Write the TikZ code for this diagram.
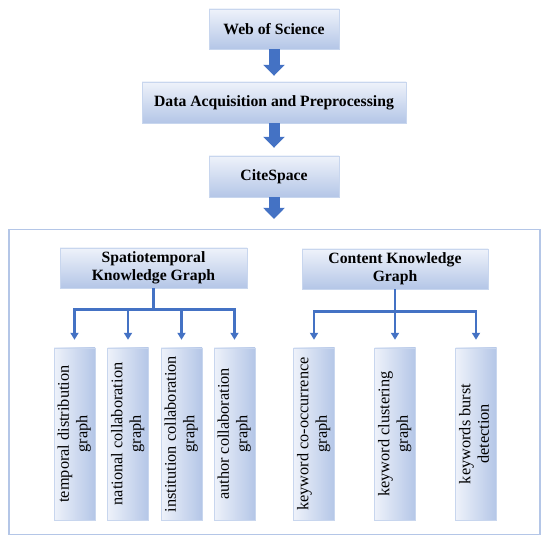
\documentclass[tikz,border=0pt]{standalone}
\usepackage{fontspec}
\setmainfont{Liberation Serif}
\usetikzlibrary{arrows.meta}

\definecolor{boxtop}{RGB}{238,242,250}
\definecolor{boxbot}{RGB}{180,198,231}
\definecolor{boxline}{RGB}{200,214,238}
\definecolor{arrblue}{RGB}{68,114,196}

\begin{document}
\begin{tikzpicture}[
  x=1pt, y=1pt,
  hbox/.style={draw=boxline, top color=boxtop, bottom color=boxbot, inner sep=0pt,
    align=center, font=\fontsize{15.7}{18}\selectfont\bfseries},
  leaf/.style={draw=boxline, left color=boxtop, right color=boxbot, inner sep=0pt,
    minimum width=41pt, minimum height=172pt, font=\fontsize{16.3}{18.5}\selectfont},
  blk/.style={arrblue, line width=11pt, -{Triangle[width=21pt,length=11pt]}},
  conn/.style={arrblue, line width=2.8pt, -{Triangle[width=8pt,length=7pt]}, shorten >=8pt},
]
\useasboundingbox (0,0) rectangle (550,548);

\node [hbox, minimum width=130pt, minimum height=40pt] (wos) at (274,519) {Web of Science};
\node [hbox, minimum width=264pt, minimum height=41pt] (data) at (274,445.5) {Data Acquisition and Preprocessing};
\node [hbox, minimum width=130pt, minimum height=41pt] (cite) at (274,371.5) {CiteSpace};
\node [draw=boxbot, line width=1.2pt, minimum width=531pt, minimum height=305pt] (frame) at (274.5,166) {};

\draw [blk, shorten >=6pt] (wos) -- (data);
\draw [blk, shorten >=8pt] (data) -- (cite);
\draw [blk, shorten >=10pt] (cite) -- (cite |- frame.north);

% left part
\node [hbox, minimum width=187pt, minimum height=40pt] (st) at (153.5,280) {Spatiotemporal\\Knowledge Graph};
\node [leaf] (tdg) at (74.5,114) {\rotatebox{90}{\begin{tabular}{@{}c@{}}temporal distribution\\graph\end{tabular}}};
\node [leaf] (ncg) at (128,114) {\rotatebox{90}{\begin{tabular}{@{}c@{}}national collaboration\\graph\end{tabular}}};
\node [leaf] (icg) at (181.5,114) {\rotatebox{90}{\begin{tabular}{@{}c@{}}institution collaboration\\graph\end{tabular}}};
\node [leaf] (acg) at (234.5,114) {\rotatebox{90}{\begin{tabular}{@{}c@{}}author collaboration\\graph\end{tabular}}};

\draw [conn] (st.south) -- ++(0,-21) -| (tdg.north);
\draw [conn] (st.south) -- ++(0,-21) -| (ncg.north);
\draw [conn] (st.south) -- ++(0,-21) -| (icg.north);
\draw [conn] (st.south) -- ++(0,-21) -| (acg.north);

% right part
\node [hbox, minimum width=186pt, minimum height=40pt] (ck) at (395,279) {Content Knowledge\\Graph};
\node [leaf] (kcg) at (314,114) {\rotatebox{90}{\begin{tabular}{@{}c@{}}keyword co-occurrence\\graph\end{tabular}}};
\node [leaf] (kcl) at (395,114) {\rotatebox{90}{\begin{tabular}{@{}c@{}}keyword clustering\\graph\end{tabular}}};
\node [leaf] (kbd) at (476,114) {\rotatebox{90}{\begin{tabular}{@{}c@{}}keywords burst\\detection\end{tabular}}};

\draw [conn] (ck.south) -- ++(0,-22) -| (kcg.north);
\draw [conn] (ck.south) -- (kcl.north);
\draw [conn] (ck.south) -- ++(0,-22) -| (kbd.north);

\end{tikzpicture}
\end{document}
